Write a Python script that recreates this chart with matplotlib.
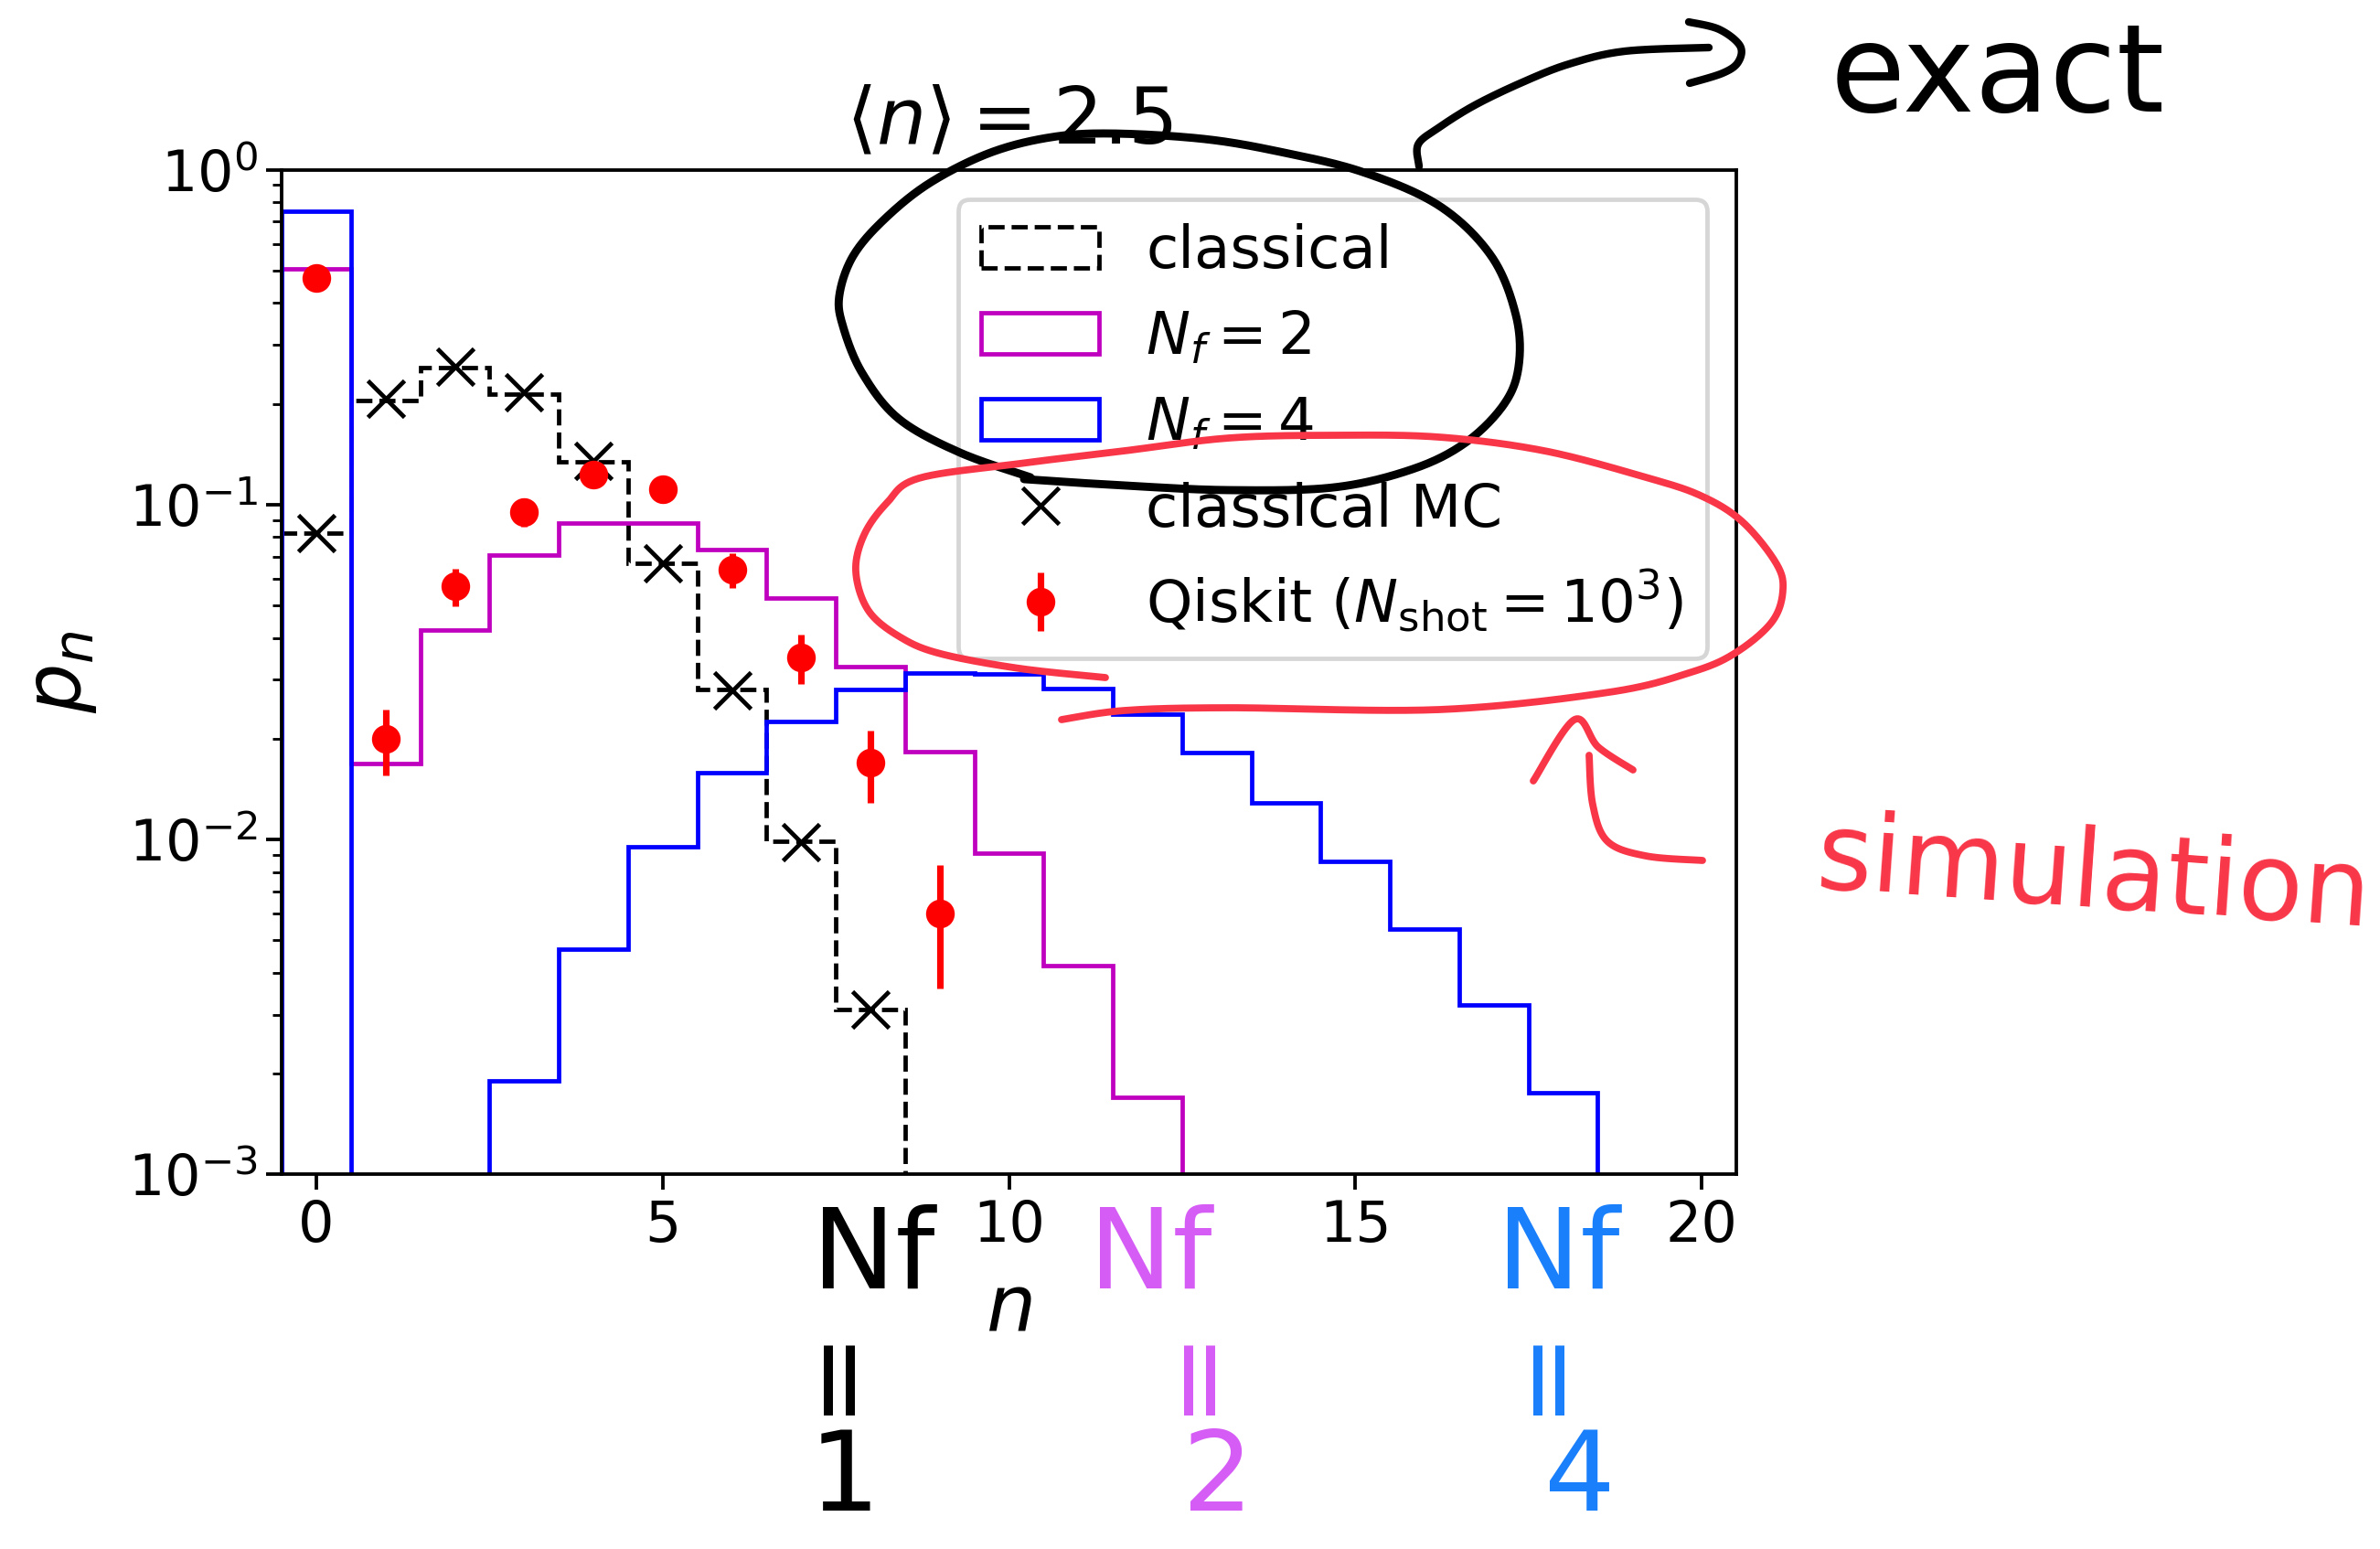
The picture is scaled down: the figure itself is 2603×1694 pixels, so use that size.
"""Photon-number distribution p_n for <n> = 2.5, with hand-drawn notes on top."""

import numpy as np
import matplotlib
matplotlib.use("Agg")
import matplotlib.pyplot as plt

# ---- data -----------------------------------------------------------------
n_bins = np.arange(21)
bin_edges = np.arange(-0.5, 21.0, 1.0)

p_classical = [0.082, 0.205, 0.257, 0.214, 0.134, 0.067, 0.028, 0.0099, 0.0031,
               0, 0, 0, 0, 0, 0, 0, 0, 0, 0, 0, 0]
p_nf2 = [0.505, 0.0169, 0.0423, 0.0708, 0.088, 0.088, 0.0735, 0.0525, 0.0328,
         0.0183, 0.0091, 0.0042, 0.0017, 0, 0, 0, 0, 0, 0, 0, 0]
p_nf4 = [0.754, 0, 0, 0.0019, 0.0047, 0.0095, 0.0158, 0.0225, 0.0281, 0.0315,
         0.0313, 0.0282, 0.0236, 0.0182, 0.0129, 0.0086, 0.0054, 0.0032,
         0.00175, 0, 0]

n_mc = [0, 1, 2, 3, 4, 5, 6, 7, 8]
p_mc = [0.082, 0.207, 0.259, 0.216, 0.135, 0.067, 0.0278, 0.0098, 0.0031]

n_qiskit = [0, 1, 2, 3, 4, 5, 6, 7, 8, 9]
p_qiskit = [0.476, 0.020, 0.057, 0.095, 0.123, 0.111, 0.064, 0.035, 0.017, 0.006]
err_qiskit = [0.0158, 0.0045, 0.0073, 0.0093, 0.0104, 0.0099, 0.0077, 0.0058,
              0.0041, 0.0024]

# ---- hand-drawn notes (figure pixel coordinates) ---------------------------
black_loop = [(1127, 522), (1050, 495), (983, 458), (943, 408), (922, 357),
              (918, 323), (933, 280), (967, 240), (1017, 200), (1083, 167),
              (1150, 150), (1217, 146), (1317, 152), (1400, 166), (1490, 188),
              (1574, 225), (1631, 280), (1658, 345), (1661, 400), (1645, 442),
              (1603, 484), (1545, 513), (1459, 533), (1344, 536), (1230, 531),
              (1120, 524)]
black_arrow = [(1552, 182), (1551, 158), (1573, 140), (1613, 115), (1665, 90),
               (1716, 70), (1777, 56), (1869, 52)]
black_head = [(1847, 24), (1880, 32), (1903, 50), (1901, 68), (1884, 80),
              (1848, 91)]

red_loop = [(1209, 741), (1115, 731), (1029, 715), (985, 697), (950, 668),
            (936, 625), (945, 585), (970, 550), (1005, 523), (1115, 507),
            (1230, 493), (1344, 479), (1459, 476), (1574, 478), (1689, 493),
            (1800, 522), (1860, 542), (1905, 570), (1942, 615), (1950, 645),
            (1938, 680), (1898, 714), (1850, 735), (1760, 757), (1574, 776),
            (1344, 774), (1230, 777), (1161, 787)]
red_head = [(1677, 854), (1722, 787), (1748, 817), (1786, 842)]
red_shaft = [(1738, 826), (1742, 880), (1758, 920), (1800, 936), (1862, 941)]

hand_black = "#000000"
hand_magenta = "#d65cf6"
hand_blue = "#1a7ffb"
hand_red = "#f83648"

W, H, DPI = 2603, 1694, 200
S = 343 / 200  # original points -> points at this dpi


def smooth(pts, n=24):
    p = np.asarray(pts, float)
    p = np.vstack([p[0], p, p[-1]])
    out = []
    t = np.linspace(0, 1, n, endpoint=False)[:, None]
    for i in range(1, len(p) - 2):
        p0, p1, p2, p3 = p[i - 1], p[i], p[i + 1], p[i + 2]
        out.append(0.5 * (2 * p1 + (-p0 + p2) * t
                          + (2 * p0 - 5 * p1 + 4 * p2 - p3) * t ** 2
                          + (-p0 + 3 * p1 - 3 * p2 + p3) * t ** 3))
    out.append(p[-2][None])
    return np.vstack(out)


fig = plt.figure(figsize=(W / DPI, H / DPI), dpi=DPI)
ax = fig.add_axes([0.1184, 0.2419, 0.6111, 0.6485])

_, _, h_cl = ax.hist(n_bins, bins=bin_edges, weights=p_classical, histtype="step",
                     color="k", ls="--", lw=1.0 * S, label="classical")
_, _, h_2 = ax.hist(n_bins, bins=bin_edges, weights=p_nf2, histtype="step",
                    color="m", lw=1.0 * S, label=r"$N_f=2$")
_, _, h_4 = ax.hist(n_bins, bins=bin_edges, weights=p_nf4, histtype="step",
                    color="b", lw=1.0 * S, label=r"$N_f=4$")
l_mc, = ax.plot(n_mc, p_mc, "kx", ms=8.4 * S, mew=1.0 * S, label="classical MC")
eb = ax.errorbar(n_qiskit, p_qiskit, yerr=err_qiskit, fmt="o", color="r",
                 ms=6 * S, elinewidth=1.5 * S,
                 label=r"Qiskit ($N_{\mathrm{shot}}=10^3$)")

ax.set_yscale("log")
ax.set_ylim(1e-3, 1)
ax.set_xlim(-0.5, 20.5)
ax.set_title(r"$\langle n\rangle = 2.5$", fontsize=18 * S, pad=6 * S)
ax.set_xlabel(r"$n$", fontsize=18 * S, labelpad=4 * S)
ax.set_ylabel(r"$p_n$", fontsize=18 * S, labelpad=4 * S + 4.7)
ax.tick_params(which="major", labelsize=13 * S, length=3.5 * S, width=0.8 * S)
ax.tick_params(which="minor", length=2 * S, width=0.6 * S)
for sp in ax.spines.values():
    sp.set_linewidth(0.8 * S)

leg = ax.legend([h_cl[0], h_2[0], h_4[0], l_mc, eb],
                ["classical", r"$N_f=2$", r"$N_f=4$", "classical MC",
                 r"Qiskit ($N_{\mathrm{shot}}=10^3$)"],
                loc="upper right", fontsize=13.5 * S)
leg.get_frame().set_linewidth(1.0 * S)

# overlay for the handwriting, in pixel units of the figure
ov = fig.add_axes([0, 0, 1, 1], zorder=10)
ov.set_xlim(0, W)
ov.set_ylim(H, 0)
ov.axis("off")
ov.patch.set_visible(False)

for pts, col, lw in [(black_loop, hand_black, 3.2), (black_arrow, hand_black, 3.0),
                     (black_head, hand_black, 3.0), (red_loop, hand_red, 2.8),
                     (red_head, hand_red, 2.8), (red_shaft, hand_red, 2.8)]:
    xy = smooth(pts)
    ov.plot(xy[:, 0], xy[:, 1], color=col, lw=lw, solid_capstyle="round",
            solid_joinstyle="round")

ov.text(2185, 122, "exact", color=hand_black, fontsize=48, ha="center",
        va="baseline")
ov.text(2290, 960, "simulation", color=hand_red, fontsize=42, ha="center",
        va="center", rotation=-4)

for col, x_nf, x_eq, x_num, num in [(hand_black, 955, 910, 923, "1"),
                                    (hand_magenta, 1258, 1305, 1332, "2"),
                                    (hand_blue, 1704, 1686, 1728, "4")]:
    ov.text(x_nf, 1375, "Nf", color=col, fontsize=44, ha="center", va="center")
    ov.text(x_eq, 1496, "=", color=col, fontsize=44, ha="center", va="center",
            rotation=90)
    ov.text(x_num, 1618, num, color=col, fontsize=44, ha="center", va="center")

fig.savefig("out.png", dpi=DPI)
